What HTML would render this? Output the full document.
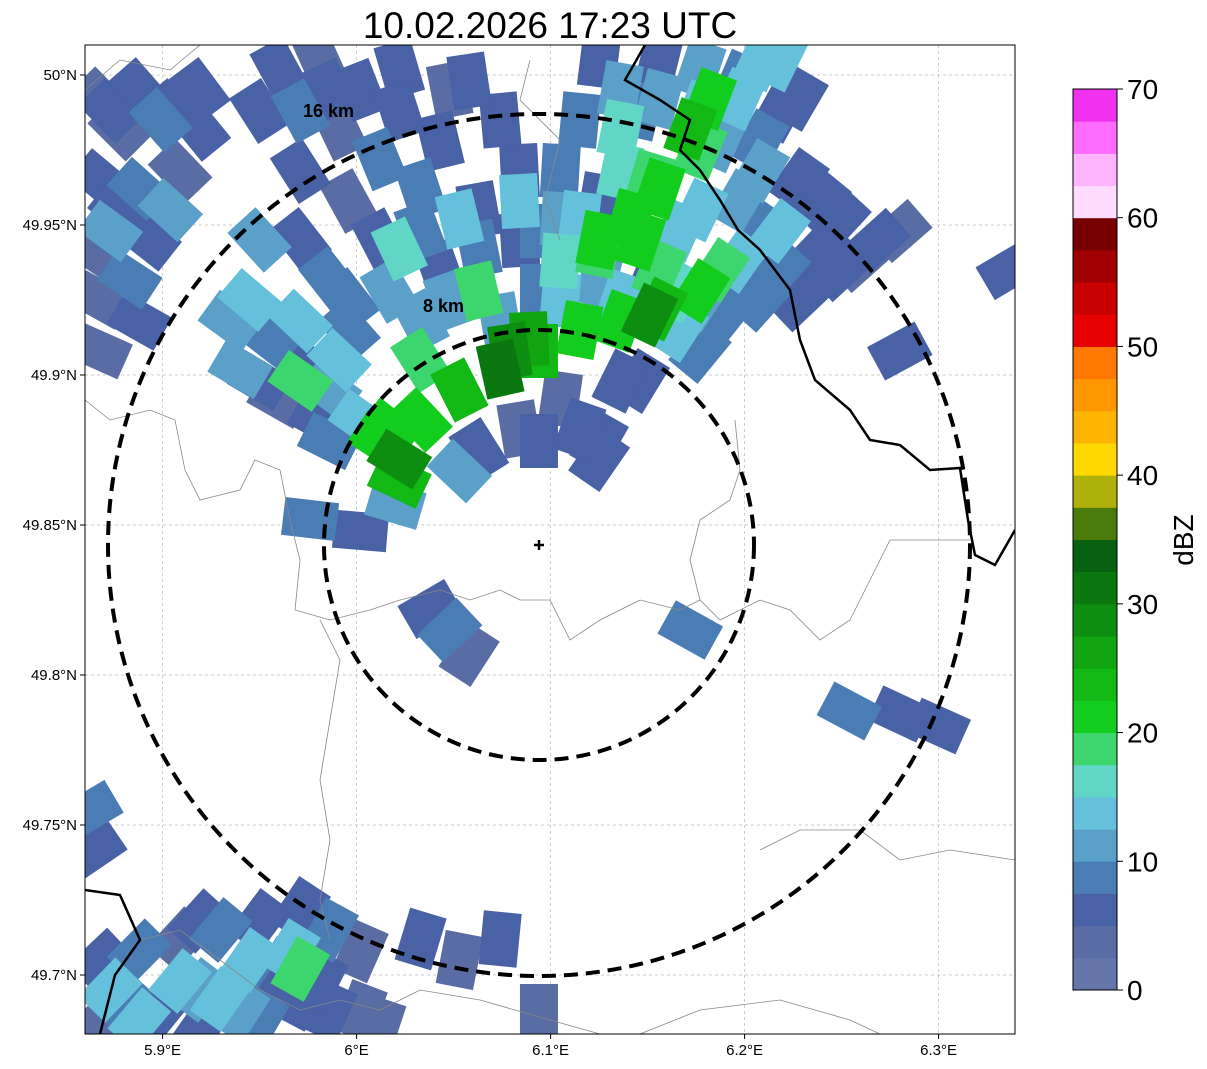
<!DOCTYPE html>
<html><head><meta charset="utf-8">
<style>
html,body{margin:0;padding:0;background:#fff;}
svg{display:block;font-family:"Liberation Sans","DejaVu Sans",sans-serif;}
</style></head>
<body>
<svg id="chart" width="1207" height="1069" viewBox="0 0 1207 1069">
  <defs><clipPath id="plotclip"><rect x="85" y="45" width="930" height="989"/></clipPath></defs>
  <text x="550" y="38" font-size="37" text-anchor="middle">10.02.2026 17:23 UTC</text>
  <g id="grid"></g>
  <g id="cells" clip-path="url(#plotclip)"></g>
  <g clip-path="url(#plotclip)" fill="none">
    <path d="M85,400 L110,420 L150,410 L175,420 L185,470 L200,500 L240,490 L255,460 L280,470 L290,520 L300,560 L295,610 L330,620 L370,610 L400,600 L440,590 L470,600 L500,590 L520,600 L550,600 L570,640 L600,620 L640,600 L680,610 L700,600 L720,620 L760,600 L790,610 L820,640 L850,620 L870,580 L890,540 L940,540 L970,540" stroke="#888" stroke-width="0.8"/>
    <path d="M320,620 L340,660 L330,720 L320,780 L330,840 L320,900 L330,940" stroke="#888" stroke-width="0.8"/>
    <path d="M735,420 L740,470 L730,500 L700,520 L690,560 L700,600" stroke="#888" stroke-width="0.8"/>
    <path d="M760,850 L800,830 L860,830 L900,860 L950,850 L1015,860" stroke="#888" stroke-width="0.8"/>
    <path d="M560,240 L545,200 L560,140 L520,100 L530,60" stroke="#888" stroke-width="0.8"/>
    <path d="M85,90 L120,60 L170,70 L200,45" stroke="#888" stroke-width="0.8"/>
    <path d="M140,940 L180,930 L220,960 L260,990 L300,1010 L340,1000 L380,1010 L420,990 L480,1000 L550,1020 L600,1034" stroke="#888" stroke-width="0.8"/>
    <path d="M640,1034 L700,1010 L780,1000 L850,1020 L880,1034" stroke="#888" stroke-width="0.8"/>
    <path d="M645,45 L625,80 L660,100 L690,120 L680,150 L700,170 L720,200 L738,230 L760,250 L790,290 L800,340 L815,380 L850,410 L870,440 L900,445 L930,470 L960,468 L968,520 L975,555 L995,565 L1015,530" stroke="#000" stroke-width="2.5"/>
    <path d="M85,890 L120,895 L140,940 L115,975 L100,1034" stroke="#000" stroke-width="2.5"/>
  </g>
  <g fill="none" stroke="#000" stroke-width="4" stroke-dasharray="14,8">
    <circle cx="539" cy="545" r="431"/>
    <circle cx="539" cy="545" r="215"/>
  </g>
  <g stroke="#000" stroke-width="2.5">
    <line x1="534" y1="545" x2="544" y2="545"/><line x1="539" y1="540" x2="539" y2="550"/>
  </g>
  <text x="303" y="117" font-size="18" font-weight="bold">16 km</text>
  <text x="423" y="312" font-size="18" font-weight="bold">8 km</text>
  <rect x="85" y="45" width="930" height="989" fill="none" stroke="#000" stroke-width="1"/>
  <g id="axes"></g>
  <g id="cbar"></g>
</svg>
<script>
const xTicks = [5.9, 6.0, 6.1, 6.2, 6.3];
const xTickLabels = ["5.9°E", "6°E", "6.1°E", "6.2°E", "6.3°E"];
const yTicks = [50.0, 49.95, 49.9, 49.85, 49.8, 49.75, 49.7];
const yTickLabels = ["50°N", "49.95°N", "49.9°N", "49.85°N", "49.8°N", "49.75°N", "49.7°N"];
const cbarLevels = [0,2.5,5,7.5,10,12.5,15,17.5,20,22.5,25,27.5,30,32.5,35,37.5,40,42.5,45,47.5,50,52.5,55,57.5,60,62.5,65,67.5];
const cbarColors = ["#6576a8","#5a6ca4","#4961a5","#4b7db5","#5aa0c8","#65c0dc","#62d6c6","#3dd66e","#12cc1e","#12b814","#0fa410","#0e8e10","#0b780f","#075f10","#4a7a0a","#b0b00a","#ffd800","#ffb400","#ff9800","#ff7800","#e60000","#c80000","#a00000","#780000","#ffdcff","#ffb4ff","#ff6cff","#f032f0"];
const cbarTicks = [0,10,20,30,40,50,60,70];
const radarLon = 6.094, radarLat = 49.843;

const cellLon = [5.868,5.888,5.878,5.899,5.868,5.888,5.909,5.873,5.893,5.883,5.868,5.919,5.868,
5.960,5.981,6.002,5.971,5.991,6.022,6.043,6.012,5.971,5.996,6.033,6.058,6.074,6.084,5.950,5.971,5.986,
5.935,5.955,5.940,5.971,5.996,6.017,6.043,6.063,6.084,6.105,6.125,5.960,5.981,5.996,6.033,6.094,6.125,6.156,6.177,6.197,6.218,6.239,6.259,6.269,6.105,6.125,6.084,6.063,6.146,6.177,6.115,6.136,6.156,6.177,6.197,6.218,6.228,6.208,6.239,6.249,6.280,
5.945,5.971,5.991,6.022,6.053,6.084,6.105,6.136,6.166,6.197,6.218,6.136,6.177,6.197,6.208,
5.971,6.033,6.063,6.125,6.156,6.187,6.151,6.177,
6.017,6.033,6.053,6.074,6.094,6.115,6.136,6.156,6.177,6.125,6.141,6.156,6.172,6.182,6.012,6.022,
6.022,6.079,6.089,6.151,6.074,
6.038,6.048,6.058,6.172,6.280,6.254,6.280,6.300,6.336,5.976,6.002,6.020,
5.868,5.888,5.909,5.930,5.950,5.971,5.986,6.002,5.878,5.899,5.919,5.940,5.960,5.981,6.002,5.868,5.919,5.950,5.971,6.033,6.053,6.074,6.094,5.863,5.865,
5.945,5.966,5.909,5.930,5.873,5.971,
5.873,5.904,5.878,5.904,5.863,5.888,5.919,
5.950,5.986,6.022,6.048,6.033,6.063,6.012,
5.950,5.986,6.002,5.986,6.048,6.074,6.105,6.136,6.115,6.125,6.094,6.053,6.166,6.187,6.208,6.228,6.136,6.105,6.156,6.208,6.228,6.249,
5.888,5.940,5.986,6.012,5.919,
6.125,6.146,6.187,6.218,6.146,6.177,6.197,6.208,6.166,6.115,6.094];
const cellLat = [49.992,49.995,49.982,49.985,49.965,49.962,49.968,49.948,49.945,49.932,49.925,49.995,49.908,
50.002,50.005,49.995,49.988,49.982,49.988,49.978,49.972,49.968,49.958,49.962,49.998,49.985,49.968,49.945,49.945,49.932,
49.918,49.912,49.902,49.905,49.915,49.928,49.935,49.942,49.945,49.952,49.958,49.892,49.885,49.925,49.918,49.928,49.932,49.938,49.925,49.928,49.935,49.942,49.938,49.945,49.892,49.878,49.882,49.875,49.898,49.908,49.985,49.995,50.005,50.002,49.998,50.005,49.992,49.978,49.958,49.952,49.948,
49.925,49.918,49.905,49.942,49.952,49.958,49.938,49.925,49.928,49.938,49.948,49.982,49.988,49.992,50.005,
49.898,49.905,49.928,49.942,49.935,49.935,49.965,49.975,
49.882,49.885,49.895,49.902,49.908,49.915,49.918,49.922,49.928,49.945,49.952,49.962,49.982,49.992,49.878,49.865,
49.872,49.908,49.912,49.920,49.902,
49.822,49.815,49.807,49.815,49.908,49.788,49.787,49.783,49.935,49.852,49.848,49.857,
49.705,49.708,49.712,49.715,49.718,49.722,49.715,49.708,49.692,49.688,49.695,49.698,49.702,49.698,49.688,49.685,49.682,49.685,49.692,49.712,49.705,49.712,49.688,49.755,49.742,
49.705,49.708,49.698,49.692,49.695,49.702,
49.988,49.988,49.955,49.955,49.942,49.918,49.982,
49.988,49.995,50.002,49.995,49.948,49.955,49.945,
49.898,49.895,49.885,49.878,49.925,49.918,49.925,49.898,49.882,49.872,49.878,49.868,49.915,49.918,49.925,49.925,49.968,49.968,49.992,49.968,49.965,49.935,
49.685,49.688,49.688,49.683,49.718,
50.005,49.988,49.978,49.988,49.945,49.955,49.958,49.948,49.948,49.952,49.948];
const cellDbz = [4,6,3,8,5,9,4,10,6,8,3,5,4,
5,3,6,8,4,7,5,9,6,4,8,6,5,7,10,6,8,
12,9,11,5,8,12,6,9,7,11,5,4,6,8,10,9,12,7,11,9,8,6,4,5,3,5,4,7,6,8,9,11,6,10,8,13,7,9,6,5,4,
14,13,14,15,13,14,15,14,15,14,13,15,14,13,14,
18,18,18,18,18,18,18,18,
21,22,23,22,24,22,21,23,22,21,22,21,23,21,20,24,
28,29,27,28,30,
5,8,4,9,6,8,5,7,5,8,6,12,
5,8,4,9,6,5,8,4,9,6,12,8,5,7,4,3,6,9,5,6,4,5,3,8,6,
14,13,14,14,13,18,
6,5,7,10,4,5,7,
5,6,5,4,9,6,7,
6,12,13,8,11,12,14,7,6,5,6,12,13,9,8,6,15,9,10,11,7,5,
13,12,6,4,6,
7,9,12,5,21,13,12,9,14,13,9];

const X0=85, X1=1015, Y0=45, Y1=1034;
const LON0=5.86, LON1=5.86+930/1940, LAT1=50.01, LAT0=50.01-989/3000;
function xs(lon){return X0+(lon-LON0)/(LON1-LON0)*(X1-X0);}
function ys(lat){return Y0+(LAT1-lat)/(LAT1-LAT0)*(Y1-Y0);}
function colorFor(v){let c=cbarColors[0];for(let i=0;i<cbarLevels.length;i++){if(v>=cbarLevels[i])c=cbarColors[i];}return c;}
const NS="http://www.w3.org/2000/svg";
function mk(tag,attrs,parent){const e=document.createElementNS(NS,tag);for(const k in attrs)e.setAttribute(k,attrs[k]);parent.appendChild(e);return e;}

const grid=document.getElementById('grid'), axes=document.getElementById('axes');
xTicks.forEach((t,i)=>{const x=xs(t);
  const l=mk('line',{x1:x,y1:Y0,x2:x,y2:Y1,stroke:'#bbb','stroke-width':0.7,'stroke-dasharray':'3,3'},grid);
  
  
  const tk=mk('line',{x1:x,y1:Y1,x2:x,y2:Y1+5,stroke:'#000'},axes);
  
  
  const tx=mk('text',{x:x,y:Y1+21,'font-size':15,'text-anchor':'middle'},axes);tx.textContent=xTickLabels[i];
  
  
});
yTicks.forEach((t,i)=>{const y=ys(t);
  const l=mk('line',{x1:X0,y1:y,x2:X1,y2:y,stroke:'#bbb','stroke-width':0.7,'stroke-dasharray':'3,3'},grid);
  
  
  const tk=mk('line',{x1:X0-5,y1:y,x2:X0,y2:y,stroke:'#000'},axes);
  
  
  const tx=mk('text',{x:X0-8,y:y+5,'font-size':15,'text-anchor':'end'},axes);tx.textContent=yTickLabels[i];
  
  
});

const cellsG=document.getElementById('cells');
const rx0=xs(radarLon), ry0=ys(radarLat);
const order=cellDbz.map((v,i)=>i).sort((a,b)=>cellDbz[a]-cellDbz[b]);
order.forEach(i=>{const cx=xs(cellLon[i]), cy=ys(cellLat[i]);
  const ang=Math.atan2(cx-rx0, ry0-cy)*180/Math.PI;
  const r=mk('rect',{x:cx-19,y:cy-27,width:38,height:54,fill:colorFor(cellDbz[i]),transform:`rotate(${ang.toFixed(1)} ${cx} ${cy})`},cellsG);
  
  
});

const cb=document.getElementById('cbar');
const CB_X=1073, CB_W=44, CB_TOP=89, CB_BOT=990, VMAX=70;
function cbY(v){return CB_BOT-(v/VMAX)*(CB_BOT-CB_TOP);}
cbarLevels.forEach((lv,i)=>{const top=i+1<cbarLevels.length?cbarLevels[i+1]:VMAX;
  const r=mk('rect',{x:CB_X,y:cbY(top),width:CB_W,height:cbY(lv)-cbY(top)+0.5,fill:cbarColors[i]},cb);
  
  
});
const fr=mk('rect',{x:CB_X,y:CB_TOP,width:CB_W,height:CB_BOT-CB_TOP,fill:'none',stroke:'#000','stroke-width':1},cb);


cbarTicks.forEach(t=>{const y=cbY(t);
  const tk=mk('line',{x1:CB_X+CB_W,y1:y,x2:CB_X+CB_W+6,y2:y,stroke:'#000'},cb);
  
  
  const tx=mk('text',{x:CB_X+CB_W+10,y:y+10,'font-size':28},cb);tx.textContent=t;
  
  
});
const lab=mk('text',{x:1193,y:540,'font-size':28,'text-anchor':'middle',transform:'rotate(-90 1193 540)'},cb);lab.textContent='dBZ';


</script>
</body></html>
